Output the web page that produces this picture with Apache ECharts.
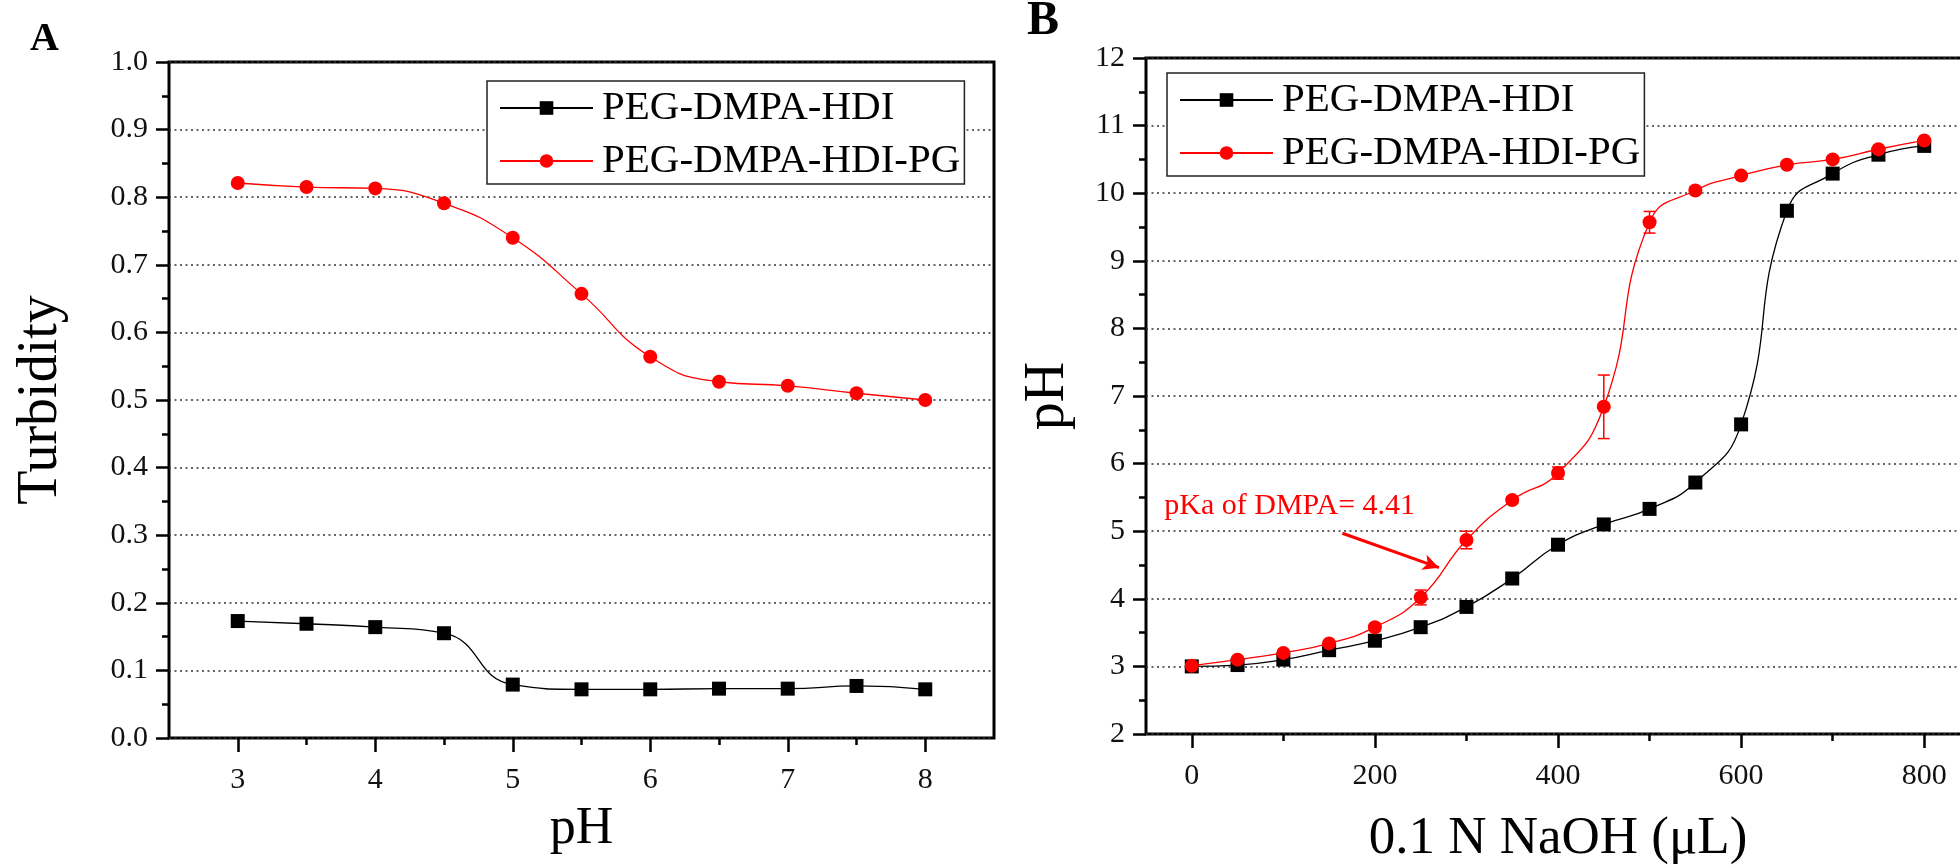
<!DOCTYPE html>
<html><head><meta charset="utf-8">
<script src="https://cdn.jsdelivr.net/npm/echarts@6/dist/echarts.min.js"></script>
<style>html,body{margin:0;padding:0;background:#fff}#c{width:1960px;height:868px}</style>
</head><body><div id="c"></div>
<script>
// ---------- Panel A data ----------
const pHValues = [3, 3.5, 4, 4.5, 5, 5.5, 6, 6.5, 7, 7.5, 8];
const turbidityHDI = [0.173, 0.169, 0.164, 0.155, 0.079, 0.072, 0.072, 0.073, 0.073, 0.077, 0.072];
const turbidityPG = [0.821, 0.815, 0.813, 0.791, 0.740, 0.657, 0.564, 0.527, 0.521, 0.510, 0.500];
const xTicksA = [3, 4, 5, 6, 7, 8];
const xMinorTicksA = [3.5, 4.5, 5.5, 6.5, 7.5];

// ---------- Panel B data ----------
const naohVolume = [0, 50, 100, 150, 200, 250, 300, 350, 400, 450, 500, 550, 600, 650, 700, 750, 800];
const phHDI = [3.00, 3.02, 3.10, 3.24, 3.38, 3.58, 3.88, 4.30, 4.80, 5.10, 5.33, 5.72, 6.58, 9.74, 10.29, 10.57, 10.70];
const phPG  = [3.01, 3.10, 3.20, 3.34, 3.58, 4.02, 4.87, 5.46, 5.86, 6.84, 9.57, 10.04, 10.26, 10.42, 10.50, 10.65, 10.78];
const errHDI = [0.02, 0.02, 0.02, 0.03, 0.03, 0.03, 0.03, 0.03, 0.03, 0.03, 0.03, 0.03, 0.08, 0.03, 0.04, 0.03, 0.03];
const errPG  = [0.03, 0.03, 0.03, 0.04, 0.05, 0.11, 0.13, 0.05, 0.09, 0.47, 0.16, 0.05, 0.04, 0.04, 0.04, 0.04, 0.04];
const xTicksB = [0, 200, 400, 600, 800];
const xMinorTicksB = [100, 300, 500, 700];

const seriesNames = ['PEG-DMPA-HDI', 'PEG-DMPA-HDI-PG'];
const annotationText = 'pKa of DMPA= 4.41';

const FONT = 'Liberation Serif';
const RED = '#ff0000';
const chart = echarts.init(document.getElementById('c'), null, {renderer: 'canvas'});

function errorBars(xs, ys, errs, color, xi, yi) {
  return {
    type: 'custom', xAxisIndex: xi, yAxisIndex: yi, z: 3, silent: true,
    encode: {x: 0, y: [1, 2]},
    data: xs.map((x, i) => [x, ys[i] - errs[i], ys[i] + errs[i]]),
    renderItem(params, api) {
      const x = api.value(0);
      const lo = api.coord([x, api.value(1)]);
      const hi = api.coord([x, api.value(2)]);
      const w = 6;
      const st = {stroke: color, lineWidth: 1.5, fill: null};
      return {type: 'group', children: [
        {type: 'line', shape: {x1: lo[0], y1: lo[1], x2: hi[0], y2: hi[1]}, style: st},
        {type: 'line', shape: {x1: lo[0] - w, y1: lo[1], x2: lo[0] + w, y2: lo[1]}, style: st},
        {type: 'line', shape: {x1: hi[0] - w, y1: hi[1], x2: hi[0] + w, y2: hi[1]}, style: st}
      ]};
    }
  };
}

const labelStyle = {fontFamily: FONT, fontSize: 30, color: '#111'};
const nameStyleBase = {fontFamily: FONT, color: '#000'};
const noLine = () => ({show: false, onZero: false});
const tickStyle = () => ({color: '#000', width: 2.5});
const splitDotted = () => ({show: true, lineStyle: {color: '#333', width: 1.5, type: [2, 3.5]}});

function legendAt(left, top) {
  return {
    orient: 'vertical', left: left, top: top, padding: [6, 4, 2, 12],
    itemWidth: 93, itemHeight: 17, itemGap: 11,
    backgroundColor: '#fff', borderColor: '#222', borderWidth: 1.5,
    textStyle: {fontFamily: FONT, fontSize: 41, lineHeight: 42, color: '#000', padding: [0, 0, 0, 4]},
    selectedMode: false, data: seriesNames
  };
}

chart.setOption({
  animation: false,
  backgroundColor: '#fff',
  textStyle: {fontFamily: FONT},
  grid: [
    {left: 169, top: 62, width: 825, height: 676, show: true, borderColor: '#000', borderWidth: 3, outerBoundsMode: 'none', containLabel: false},
    {left: 1146, top: 58, width: 824, height: 676, show: true, borderColor: '#000', borderWidth: 3, outerBoundsMode: 'none', containLabel: false}
  ],
  legend: [legendAt(487, 81), legendAt(1167, 73)],
  graphic: [
    {type: 'text', left: 30, top: 20, style: {text: 'A', fontFamily: FONT, fontWeight: 'bold', fontSize: 40, fill: '#000'}},
    {type: 'text', left: 1027, top: -2, style: {text: 'B', fontFamily: FONT, fontWeight: 'bold', fontSize: 48, fill: '#000'}}
  ],
  xAxis: [
    {gridIndex: 0, type: 'value', position: 'bottom', min: 2.5, max: 8.5, axisLine: noLine(),
     axisTick: {show: true, customValues: xTicksA, length: 14, lineStyle: tickStyle()},
     axisLabel: {show: true, customValues: xTicksA, margin: 27, ...labelStyle}, splitLine: {show: false},
     name: 'pH', nameLocation: 'middle', nameGap: 65, nameTextStyle: {...nameStyleBase, fontSize: 52}},
    {gridIndex: 0, type: 'value', position: 'bottom', min: 2.5, max: 8.5, axisLine: noLine(),
     axisTick: {show: true, customValues: xMinorTicksA, length: 7, lineStyle: tickStyle()},
     axisLabel: {show: false}, splitLine: {show: false}},
    {gridIndex: 1, type: 'value', position: 'bottom', min: -50, max: 850, axisLine: noLine(),
     axisTick: {show: true, customValues: xTicksB, length: 14, lineStyle: tickStyle()},
     axisLabel: {show: true, customValues: xTicksB, margin: 27, ...labelStyle}, splitLine: {show: false},
     name: '0.1 N NaOH (μL)', nameLocation: 'middle', nameGap: 79, nameTextStyle: {...nameStyleBase, fontSize: 53}},
    {gridIndex: 1, type: 'value', position: 'bottom', min: -50, max: 850, axisLine: noLine(),
     axisTick: {show: true, customValues: xMinorTicksB, length: 7, lineStyle: tickStyle()},
     axisLabel: {show: false}, splitLine: {show: false}}
  ],
  yAxis: [
    {gridIndex: 0, type: 'value', position: 'left', min: 0, max: 1, interval: 0.1, axisLine: noLine(),
     axisTick: {show: true, length: 13, lineStyle: tickStyle()},
     minorTick: {show: true, splitNumber: 2, length: 7, lineStyle: tickStyle()},
     axisLabel: {margin: 21, formatter: v => v.toFixed(1), ...labelStyle}, splitLine: splitDotted(),
     name: 'Turbidity', nameLocation: 'middle', nameGap: 100, nameTextStyle: {...nameStyleBase, fontSize: 56}},
    {gridIndex: 1, type: 'value', position: 'left', min: 2, max: 12, interval: 1, axisLine: noLine(),
     axisTick: {show: true, length: 13, lineStyle: tickStyle()},
     minorTick: {show: true, splitNumber: 2, length: 7, lineStyle: tickStyle()},
     axisLabel: {margin: 21, ...labelStyle}, splitLine: splitDotted(),
     name: 'pH', nameLocation: 'middle', nameGap: 70, nameTextStyle: {...nameStyleBase, fontSize: 56}}
  ],
  series: [
    {type: 'line', name: seriesNames[0], xAxisIndex: 0, yAxisIndex: 0,
     data: pHValues.map((x, i) => [x, turbidityHDI[i]]),
     smooth: 0.5, symbol: 'rect', symbolSize: 14,
     lineStyle: {color: '#000', width: 1.3}, itemStyle: {color: '#000'}, z: 4},
    {type: 'line', name: seriesNames[1], xAxisIndex: 0, yAxisIndex: 0,
     data: pHValues.map((x, i) => [x, turbidityPG[i]]),
     smooth: 0.5, symbol: 'circle', symbolSize: 14,
     lineStyle: {color: RED, width: 1.3}, itemStyle: {color: RED}, z: 5},
    errorBars(naohVolume, phHDI, errHDI, '#000', 2, 1),
    {type: 'line', name: seriesNames[0], xAxisIndex: 2, yAxisIndex: 1,
     data: naohVolume.map((x, i) => [x, phHDI[i]]),
     smooth: 0.5, symbol: 'rect', symbolSize: 14,
     lineStyle: {color: '#000', width: 1.3}, itemStyle: {color: '#000'}, z: 4},
    errorBars(naohVolume, phPG, errPG, RED, 2, 1),
    {type: 'line', name: seriesNames[1], xAxisIndex: 2, yAxisIndex: 1,
     data: naohVolume.map((x, i) => [x, phPG[i]]),
     smooth: 0.5, symbol: 'circle', symbolSize: 14,
     lineStyle: {color: RED, width: 1.3}, itemStyle: {color: RED}, z: 5,
     markLine: {silent: true, symbol: ['none', 'arrow'], symbolSize: [12, 16],
       lineStyle: {color: RED, width: 3, type: 'solid'}, label: {show: false},
       data: [[{coord: [164.5, 4.97]}, {coord: [270, 4.46]}]]},
     markPoint: {silent: true, symbol: 'circle', symbolSize: 1, itemStyle: {color: 'transparent'},
       data: [{coord: [-30.6, 5.37], label: {show: true, position: 'right', distance: 0, formatter: annotationText,
         color: RED, fontSize: 30, fontFamily: FONT}}]}}
  ]
});
</script></body></html>
